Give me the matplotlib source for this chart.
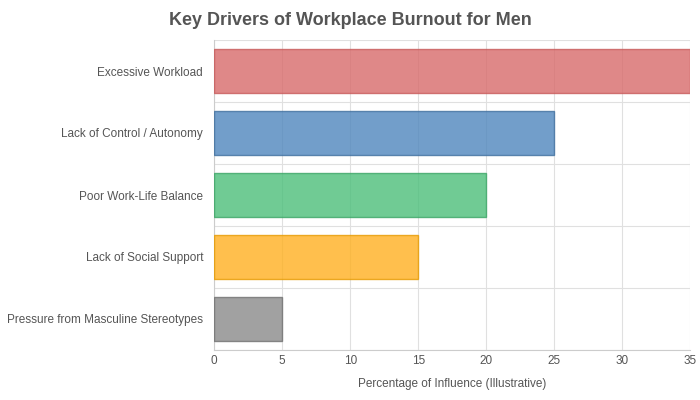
import matplotlib.pyplot as plt
import numpy as np

plt.rcParams['font.family'] = 'Liberation Sans'

drivers = ['Excessive Workload', 'Lack of Control / Autonomy', 'Poor Work-Life Balance',
           'Lack of Social Support', 'Pressure from Masculine Stereotypes']
influence = [35, 25, 20, 15, 5]
fills = ['#d86b6b', '#4f86bd', '#4cbf7a', '#ffb020', '#8a8a8a']
edges = ['#c85a5a', '#3f6f9f', '#3aa565', '#e69a00', '#707070']

fig = plt.figure(figsize=(7, 4), dpi=100)
ax = fig.add_axes([0.306, 0.125, 0.68, 0.775])

y = np.arange(len(drivers))
ax.barh(y, influence, height=0.7, color=fills, edgecolor=edges, alpha=0.8, linewidth=1, zorder=3)
ax.set_yticks(y)
ax.set_yticklabels(drivers, fontsize=8.5, color='#555555')
ax.set_ylim(len(drivers) - 0.5, -0.5)
ax.set_xlim(0, 35)
ax.set_xticks(range(0, 36, 5))
ax.tick_params(axis='x', labelsize=8.5, colors='#555555', length=0)
ax.tick_params(axis='y', length=0, pad=8)
ax.set_yticks(np.arange(-0.5, len(drivers), 1), minor=True)
ax.tick_params(axis='y', which='minor', length=0)
ax.grid(axis='x', color='#e0e0e0', linewidth=0.8, zorder=0)
ax.grid(axis='y', which='minor', color='#e0e0e0', linewidth=0.8, zorder=0)
for s in ax.spines.values():
    s.set_visible(False)
ax.spines['left'].set_visible(True)
ax.spines['left'].set_color('#cccccc')
ax.spines['bottom'].set_visible(True)
ax.spines['bottom'].set_color('#cccccc')
ax.set_xlabel('Percentage of Influence (Illustrative)', fontsize=8.5, color='#555555', labelpad=8)
fig.suptitle('Key Drivers of Workplace Burnout for Men', x=0.5, y=0.97,
             fontsize=13, fontweight='bold', color='#555555')

fig.savefig('out.png', dpi=100)
